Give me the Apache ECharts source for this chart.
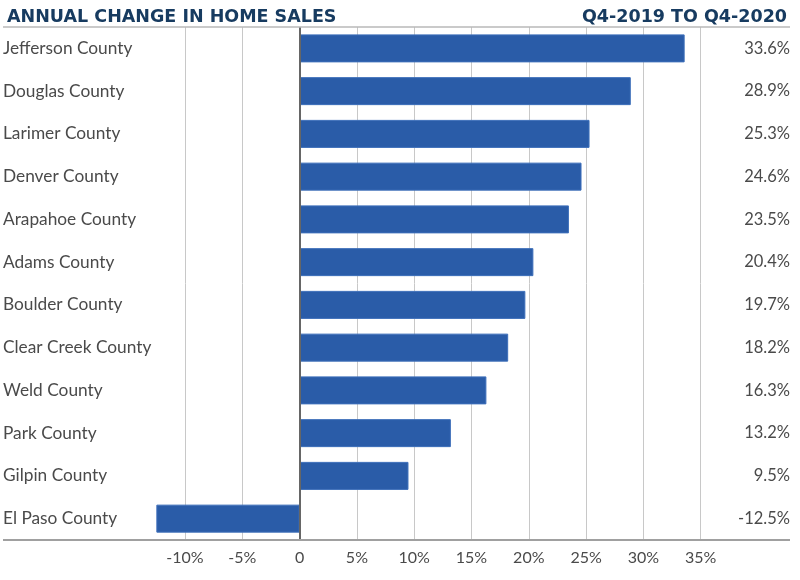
<!DOCTYPE html>
<html><head><meta charset="utf-8">
<script src="https://cdn.jsdelivr.net/npm/echarts@6/dist/echarts.min.js"></script>
<style>html,body{margin:0;padding:0;background:#fff}#c{width:800px;height:580px}</style>
</head><body><div id="c"></div>
<script>
const titleLeft = 'ANNUAL CHANGE IN HOME SALES';
const titleRight = 'Q4-2019 TO Q4-2020';
const counties = ['Jefferson County','Douglas County','Larimer County','Denver County','Arapahoe County','Adams County','Boulder County','Clear Creek County','Weld County','Park County','Gilpin County','El Paso County'];
const changes = [33.6, 28.9, 25.3, 24.6, 23.5, 20.4, 19.7, 18.2, 16.3, 13.2, 9.5, -12.5];
const xMin = -15, xMax = 35, xStep = 5;

const font = 'Lato, "Noto Sans", sans-serif';
const titleFont = '"DejaVu Sans", sans-serif';
const textColor = '#4a4a4a';
const chart = echarts.init(document.getElementById('c'));
const gridLeft = 127.7, gridRight = 99.3, gridTop = 27, gridBottom = 40;
chart.setOption({
  animation: false,
  textStyle: {fontFamily: font},
  title: [
    {text: titleLeft, left: 2, top: 3, textStyle: {fontFamily: titleFont, fontWeight: 'bold', fontSize: 17.5, color: '#173b60'}},
    {text: titleRight, right: 8, top: 3, textStyle: {fontFamily: titleFont, fontWeight: 'bold', fontSize: 17.5, color: '#173b60'}}
  ],
  grid: {left: gridLeft, right: gridRight, top: gridTop, bottom: gridBottom},
  xAxis: {
    type: 'value', min: xMin, max: xMax, interval: xStep,
    axisLine: {show: false}, axisTick: {show: false},
    splitLine: {show: true, showMinLine: false, lineStyle: {color: '#c8c8c8', width: 1}},
    axisLabel: {show: true, margin: 10, fontSize: 16, color: textColor, fontFamily: font,
      formatter: v => v === xMin ? '' : (v === 0 ? '0' : v + '%')}
  },
  yAxis: [
    {type: 'category', data: counties, inverse: true,
     axisLine: {show: false}, axisTick: {show: false}, splitLine: {show: false},
     axisLabel: {align: 'left', margin: gridLeft - 3, fontSize: 17.3, color: textColor, fontFamily: font}},
    {type: 'category', data: changes.map(v => v.toFixed(1) + '%'), inverse: true, position: 'right',
     axisLine: {show: false}, axisTick: {show: false}, splitLine: {show: false},
     axisLabel: {align: 'right', margin: 790 - (800 - gridRight), fontSize: 16.5, color: textColor, fontFamily: font}}
  ],
  series: [{
    type: 'bar', data: changes, barWidth: 28, yAxisIndex: 0,
    itemStyle: {color: '#2a5ca8', borderColor: '#3d6fba', borderWidth: 1},
    markLine: {symbol: 'none', silent: true, label: {show: false},
      lineStyle: {color: '#666', width: 2, type: 'solid'}, data: [{xAxis: 0}]}
  }],
  graphic: [
    {type: 'line', shape: {x1: 3, y1: gridTop, x2: 790, y2: gridTop}, style: {stroke: '#b8b8b8', lineWidth: 1.5}, z: 10},
    {type: 'line', shape: {x1: 3, y1: 580 - gridBottom, x2: 790, y2: 580 - gridBottom}, style: {stroke: '#a0a0a0', lineWidth: 2}, z: 10}
  ]
});
</script></body></html>
